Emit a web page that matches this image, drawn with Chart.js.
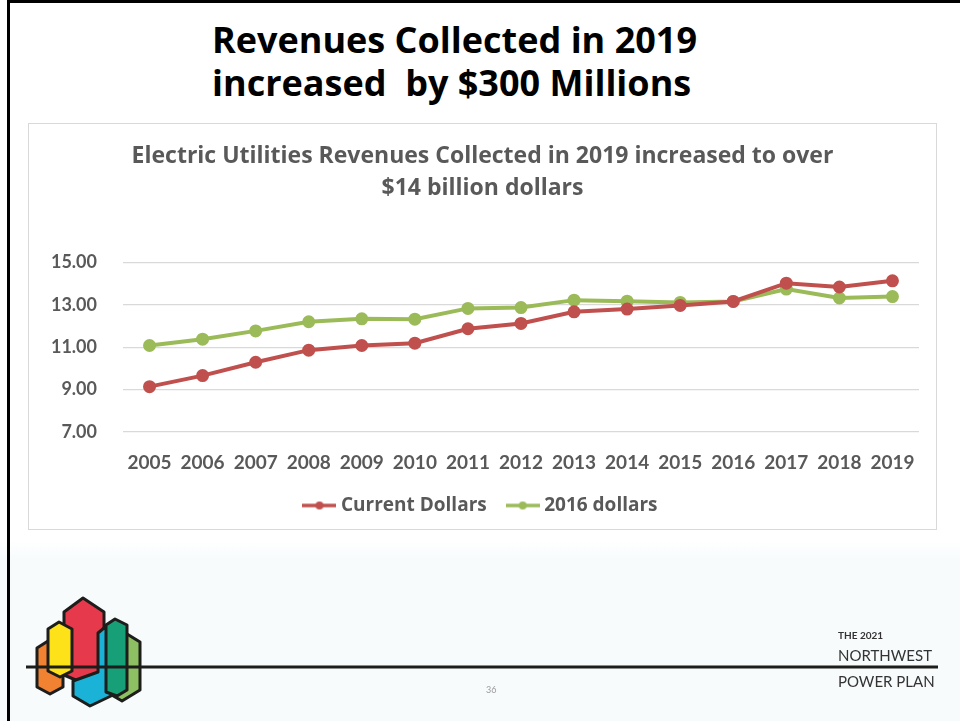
<!DOCTYPE html>
<html>
<head>
<meta charset="utf-8">
<script src="https://cdn.jsdelivr.net/npm/chart.js@4.4.1/dist/chart.umd.min.js"></script>
<style>
  html, body { margin: 0; padding: 0; }
  body {
    width: 960px; height: 721px; position: relative; overflow: hidden;
    background: linear-gradient(to bottom, #ffffff 0px, #ffffff 540px, #f7fbfc 560px, #f7fbfc 721px);
    font-family: Lato, "Open Sans", sans-serif;
  }
  .frame-top { position: absolute; left: 7px; top: 0; width: 953px; height: 3px; background: #000; }
  .frame-left { position: absolute; left: 7px; top: 0; width: 3px; height: 721px; background: #000; }
  .slide-title {
    position: absolute; left: 212px; top: 18px;
    font-family: "Open Sans", sans-serif; font-weight: 700;
    font-size: 36px; line-height: 43px; color: #000; white-space: pre;
  }
  .chart-box {
    position: absolute; left: 28px; top: 123px; width: 909px; height: 407px;
    box-sizing: border-box; border: 1px solid #d9d9d9; background: #fff;
  }
  .chart-box canvas { position: absolute; left: 0; top: 0; }
  .brand { position: absolute; left: 838px; color: #333; font-family: Lato, sans-serif; white-space: nowrap; }
  .brand.small { top: 629px; font-size: 10px; font-weight: 700; }
  .brand.big1 { top: 646px; font-size: 15px; }
  .brand.big2 { top: 672px; font-size: 15px; }
  .page-num { position: absolute; left: 486px; top: 684px; font-size: 9px; color: #9a9a9a; font-family: Lato, sans-serif; }
  svg.deco { position: absolute; left: 0; top: 0; }
</style>
</head>
<body>
<div class="frame-top"></div>
<div class="frame-left"></div>

<div class="slide-title">Revenues Collected in 2019
increased  by $300 Millions</div>

<div class="chart-box"><canvas id="chart" width="907" height="405"></canvas></div>

<svg class="deco" width="960" height="721" viewBox="0 0 960 721">
  <g stroke="#1d1d1b" stroke-width="3" stroke-linejoin="round">
    <polygon fill="#8cc063" points="127,634 140,642 140,690 122,701 110,694 110,640"/>
    <polygon fill="#f08232" points="48,641 63,648 63,687 50,694 37,687 37,648"/>
    <polygon fill="#e63a4c" points="83,598 104,612 104,672 78,681 64,675 64,612"/>
    <polygon fill="#fde21a" points="59,622 72,629 72,671 60,677 48,671 48,629"/>
    <polygon fill="#1bb2d8" points="98,633 104,628 113,633 113,695 90,706 73,696 73,681 98,672"/>
    <polygon fill="#17a078" points="115,619 127,625 127,690 117,696 106,692 106,625"/>
  </g>
  <line x1="26" y1="667" x2="938" y2="667" stroke="#1d1d1b" stroke-width="3"/>
</svg>

<div class="brand small">THE 2021</div>
<div class="brand big1">NORTHWEST</div>
<div class="brand big2">POWER PLAN</div>
<div class="page-num">36</div>

<script>
// Electric utility revenues collected, billions of dollars
const years = ['2005', '2006', '2007', '2008', '2009', '2010', '2011', '2012',
               '2013', '2014', '2015', '2016', '2017', '2018', '2019'];
const currentDollars = [9.14, 9.66, 10.29, 10.86, 11.08, 11.19, 11.87, 12.12,
                        12.67, 12.80, 12.97, 13.16, 14.02, 13.84, 14.13];
const dollars2016 = [11.08, 11.38, 11.77, 12.20, 12.34, 12.32, 12.83, 12.87,
                     13.22, 13.17, 13.11, 13.16, 13.74, 13.32, 13.39];
const yTicks = [7, 9, 11, 13, 15];
const chartTitle = ['Electric Utilities Revenues Collected in 2019 increased to over',
                    '$14 billion dollars'];

const RED = '#c0504d';
const GREEN = '#9bbb59';
const TEXT = '#595959';

// small line-with-dot sample used as the legend marker
function legendMarker(color) {
  const c = document.createElement('canvas');
  c.width = 34; c.height = 10;
  const g = c.getContext('2d');
  g.strokeStyle = color; g.lineWidth = 3.5;
  g.beginPath(); g.moveTo(0, 5); g.lineTo(34, 5); g.stroke();
  g.fillStyle = color;
  g.beginPath(); g.arc(17, 5, 4, 0, Math.PI * 2); g.fill();
  return c;
}
const markers = [legendMarker(RED), legendMarker(GREEN)];

new Chart(document.getElementById('chart'), {
  type: 'line',
  data: {
    labels: years,
    datasets: [
      { label: 'Current Dollars', data: currentDollars, borderColor: RED, backgroundColor: RED,
        borderWidth: 4, pointRadius: 4.5, pointHoverRadius: 4.5, tension: 0 },
      { label: '2016 dollars', data: dollars2016, borderColor: GREEN, backgroundColor: GREEN,
        borderWidth: 4, pointRadius: 4.5, pointHoverRadius: 4.5, tension: 0 }
    ]
  },
  options: {
    responsive: false,
    animation: false,
    layout: { padding: { left: 15, right: 15, top: 0, bottom: 4 } },
    scales: {
      x: {
        offset: true,
        grid: { display: false, drawTicks: false },
        border: { display: false },
        ticks: { color: TEXT, padding: 21, maxRotation: 0, autoSkip: false,
                 font: { family: 'Lato', weight: 'bold', size: 19, lineHeight: 1 } },
        afterFit: s => { s.height = 40; }
      },
      y: {
        min: 7, max: 15,
        afterBuildTicks: s => { s.ticks = yTicks.map(v => ({ value: v })); },
        grid: { color: '#d9d9d9', lineWidth: 1.3, drawTicks: false },
        border: { display: false },
        ticks: { color: TEXT, padding: 26, callback: v => v.toFixed(2),
                 font: { family: 'Lato', weight: 'bold', size: 18 } },
        afterFit: s => { s.width = 79; }
      }
    },
    plugins: {
      title: {
        display: true, text: chartTitle, color: TEXT,
        font: { family: 'Open Sans', weight: 'bold', size: 23, lineHeight: 1.4 },
        padding: { top: 16, bottom: 58 }
      },
      legend: {
        display: true, position: 'bottom',
        labels: {
          color: TEXT, usePointStyle: true, pointStyleWidth: 24, boxHeight: 10, padding: 24,
          font: { family: 'Open Sans', weight: 'bold', size: 19 },
          generateLabels: chart => {
            const items = Chart.defaults.plugins.legend.labels.generateLabels(chart);
            items.forEach((it, i) => { it.pointStyle = markers[i]; });
            return items;
          }
        }
      },
      tooltip: { enabled: false }
    }
  }
});
</script>
</body>
</html>
